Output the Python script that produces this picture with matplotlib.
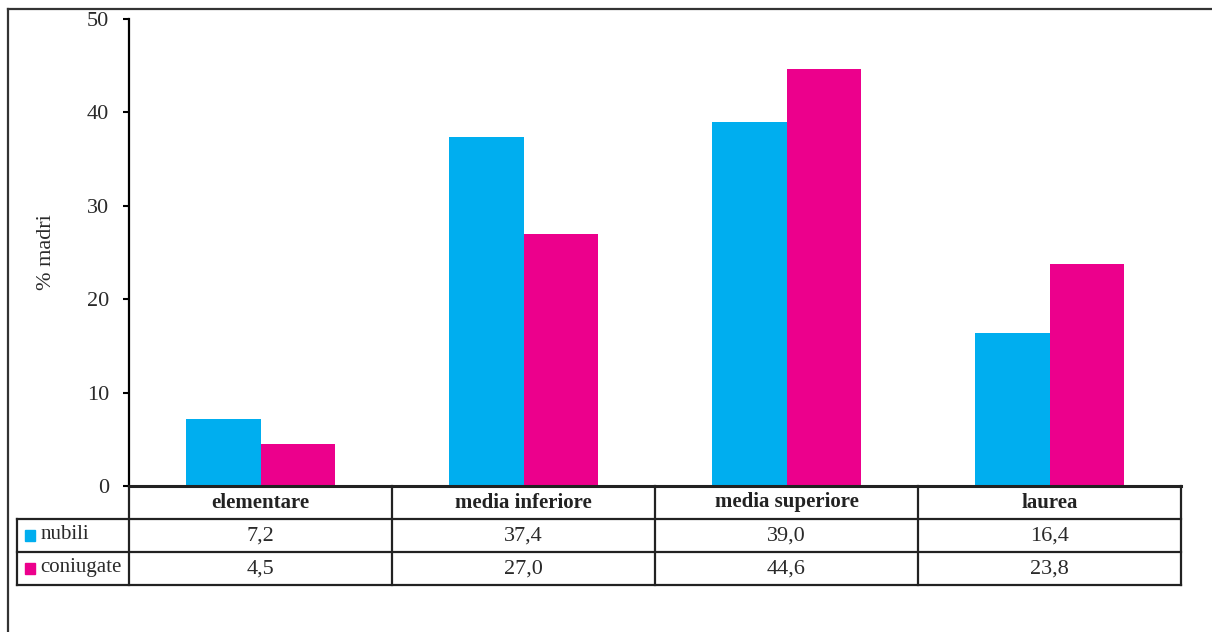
import matplotlib.pyplot as plt
from matplotlib.lines import Line2D
from matplotlib.patches import Rectangle

# ---- dati
categorie = ["elementare", "media inferiore", "media superiore", "laurea"]
nubili = [7.2, 37.4, 39.0, 16.4]
coniugate = [4.5, 27.0, 44.6, 23.8]
serie = ["nubili", "coniugate"]
colori = ["#00AEEF", "#EC008C"]
yticks = [0, 10, 20, 30, 40, 50]

plt.rcParams['font.family'] = ['Liberation Serif', 'DejaVu Serif']

W, H = 1212, 632
fig = plt.figure(figsize=(W / 100, H / 100), dpi=100)


def box(x0, y0, x1, y1):
    # pixel (dall'alto) -> coordinate figura
    return [x0 / W, 1 - y1 / H, (x1 - x0) / W, (y1 - y0) / H]


# ---- cornice esterna
fig.add_artist(Line2D([8 / W, 1], [1 - 9 / H, 1 - 9 / H], color='#333333', lw=1.6))
fig.add_artist(Line2D([8 / W, 8 / W], [0, 1 - 9 / H], color='#333333', lw=1.6))

# ---- grafico a barre
ax = fig.add_axes(box(129, 19, 1181, 486))
x = range(len(categorie))
w = 0.285
ax.bar([i - w / 2 for i in x], nubili, width=w, color=colori[0])
ax.bar([i + w / 2 for i in x], coniugate, width=w, color=colori[1])
ax.set_xlim(-0.5, len(categorie) - 0.5)
ax.set_ylim(0, 50)
ax.set_yticks(yticks)
ax.set_yticklabels([str(t) for t in yticks], fontsize=16, color='#2a2a2a')
ax.tick_params(axis='y', length=4.5, width=1.5, pad=10)
ax.set_xticks([])
for s in ['top', 'right', 'bottom']:
    ax.spines[s].set_visible(False)
ax.spines['left'].set_linewidth(1.6)
ax.set_ylabel('% madri', fontsize=16, color='#2a2a2a', labelpad=22)

# ---- tabella dati
lab_w = 112 / 263
tax = fig.add_axes(box(17, 486, 1181, 585))
tax.set_xlim(-0.5 - lab_w, len(categorie) - 0.5)
tax.set_ylim(3, 0)
tax.axis('off')
lc = '#222222'
lw = 1.6
xr = len(categorie) - 0.5
tax.plot([-0.5, xr], [0, 0], color=lc, lw=2.2, clip_on=False)
for r in [1, 2, 3]:
    tax.plot([-0.5 - lab_w, xr], [r, r], color=lc, lw=lw, clip_on=False)
tax.plot([-0.5 - lab_w] * 2, [1, 3], color=lc, lw=lw, clip_on=False)
for i in range(len(categorie) + 1):
    tax.plot([i - 0.5] * 2, [0, 3], color=lc, lw=lw, clip_on=False)

for i, c in enumerate(categorie):
    tax.text(i, 0.5, c, ha='center', va='center', fontsize=15,
             fontweight='bold', color='#222222')
for r, (nome, valori, col) in enumerate(zip(serie, [nubili, coniugate], colori), start=1):
    tax.add_patch(Rectangle((-0.5 - lab_w + 0.03, r + 0.32), 0.04, 0.34,
                            color=col, clip_on=False))
    tax.text(-0.5 - lab_w + 0.09, r + 0.47, nome, ha='left', va='center',
             fontsize=15, color='#2a2a2a')
    for i, v in enumerate(valori):
        tax.text(i, r + 0.52, f"{v:.1f}".replace('.', ','), ha='center',
                 va='center', fontsize=16, color='#2a2a2a')

fig.savefig('out.png', dpi=100)
